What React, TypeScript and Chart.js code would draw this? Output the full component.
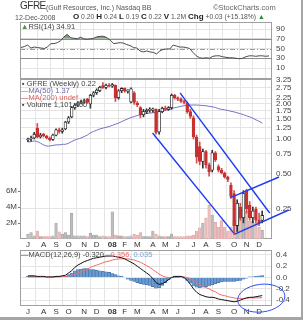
import React, { useEffect, useRef } from "react";
import { Chart, registerables } from "chart.js";
Chart.register(...registerables);

const FONT = '"Liberation Sans", Arial, sans-serif';
const W = 305;
const H = 320;

// ---- weekly data (week 0 = week of 2 Jul 2007, last = week of 8 Dec 2008) ----
const opens = [0.98,1.00,1.02,1.24,1.04,1.10,1.06,1.02,0.99,1.08,1.20,1.16,1.22,1.40,1.55,1.86,1.96,2.04,2.10,2.20,2.00,2.38,2.50,2.60,2.88,2.78,2.90,2.84,2.90,2.26,2.60,2.72,2.58,2.08,2.50,2.04,1.86,1.62,1.72,1.76,1.76,1.80,1.15,1.72,1.84,1.80,1.86,2.38,2.26,2.20,2.10,2.04,1.72,1.52,1.04,0.86,0.64,0.78,0.60,0.54,0.76,0.58,0.54,0.51,0.47,0.40,0.34,0.18,0.26,0.21,0.36,0.27,0.21,0.25,0.20,0.20];
const highs = [1.02,1.06,1.14,1.36,1.12,1.12,1.08,1.04,1.10,1.22,1.24,1.24,1.42,1.56,1.90,2.02,2.10,2.16,2.20,2.24,2.42,2.56,2.70,2.84,3.06,2.96,3.00,3.00,2.92,2.66,2.76,2.76,2.66,2.76,2.56,2.10,1.90,1.80,1.82,1.86,1.84,1.82,1.80,1.88,1.92,1.90,2.44,2.42,2.30,2.26,2.16,2.08,1.80,1.58,1.08,0.94,0.82,0.80,0.62,0.80,0.78,0.60,0.56,0.52,0.48,0.42,0.36,0.30,0.28,0.36,0.37,0.29,0.26,0.26,0.23,0.24];
const lows = [0.95,0.96,1.00,1.02,1.02,1.04,1.00,0.96,0.97,1.06,1.12,1.12,1.20,1.36,1.52,1.80,1.90,2.00,2.02,2.02,1.84,2.30,2.42,2.55,2.72,2.70,2.80,2.78,2.10,2.20,2.50,2.52,2.48,2.04,1.98,1.90,1.52,1.55,1.65,1.70,1.70,1.10,1.10,1.68,1.76,1.76,1.80,2.20,2.14,2.06,2.00,1.66,1.50,1.00,0.62,0.60,0.56,0.56,0.48,0.52,0.64,0.52,0.50,0.46,0.43,0.31,0.15,0.16,0.20,0.19,0.23,0.20,0.19,0.19,0.18,0.19];
const closes = [1.00,1.02,1.10,1.04,1.08,1.06,1.02,0.98,1.08,1.20,1.16,1.20,1.40,1.52,1.86,1.96,2.04,2.10,2.14,2.06,2.38,2.50,2.64,2.78,2.76,2.90,2.84,2.94,2.26,2.60,2.72,2.58,2.62,2.70,2.06,1.96,1.62,1.72,1.76,1.80,1.82,1.14,1.72,1.84,1.80,1.86,2.38,2.26,2.20,2.10,2.06,1.72,1.56,1.04,0.70,0.64,0.78,0.60,0.52,0.76,0.66,0.54,0.51,0.47,0.45,0.32,0.18,0.28,0.21,0.34,0.25,0.21,0.24,0.20,0.19,0.22];
const volumesM = [0.6,0.8,0.4,1.0,0.3,0.3,0.3,0.3,0.4,2.0,0.9,0.6,0.8,0.5,3.2,0.4,0.4,0.4,0.4,0.3,0.7,0.5,0.5,0.3,0.4,0.3,0.3,3.4,0.5,0.4,0.4,0.3,0.3,0.4,0.6,0.5,0.8,0.3,0.3,0.3,1.0,0.6,0.4,0.3,0.3,0.3,0.6,0.3,0.3,0.3,0.3,0.4,0.4,0.5,1.0,1.4,2.0,2.6,4.2,3.0,2.1,1.5,2.3,1.5,1.0,1.5,2.4,2.4,2.8,2.6,3.5,2.2,2.2,2.0,1.5,1.1];
const ma50 = [0.94,0.95,0.96,0.95,0.92,0.89,0.87,0.87,0.88,0.89,0.89,0.90,0.90,0.92,0.95,0.98,1.00,1.02,1.05,1.08,1.13,1.16,1.19,1.22,1.24,1.26,1.28,1.31,1.34,1.37,1.41,1.45,1.49,1.53,1.56,1.59,1.62,1.64,1.66,1.67,1.68,1.70,1.72,1.74,1.76,1.79,1.82,1.86,1.88,1.91,1.93,1.95,1.96,1.96,1.96,1.95,1.94,1.93,1.91,1.89,1.87,1.82,1.80,1.78,1.76,1.73,1.71,1.68,1.65,1.62,1.58,1.55,1.51,1.46,1.42,1.37];
const rsi14 = [52,54,57,51,53,52,51,50,53,60,60,62,66,74,79,72,71,70,73,70,69,70,71,74,75,75,72,67,60,61,62,61,58,56,52,51,45,43,45,43,42,39,45,48,49,49,57,55,53,53,52,50,42,35,31,30,31,30,34,35,35,33,32,31,31,30,29,30,33,35,35,34,35,35,34,34.91];
const macdLine = [0.03,0.03,0.03,0.02,0.02,0.02,0.01,0.01,0.01,0.02,0.02,0.03,0.04,0.08,0.12,0.18,0.22,0.25,0.28,0.30,0.32,0.34,0.35,0.36,0.37,0.38,0.38,0.38,0.37,0.36,0.35,0.33,0.30,0.27,0.24,0.20,0.16,0.12,0.08,0.04,-0.02,-0.09,-0.12,-0.11,-0.08,-0.04,0.0,0.02,0.02,0.02,0.0,-0.05,-0.12,-0.2,-0.26,-0.3,-0.32,-0.34,-0.35,-0.35,-0.36,-0.38,-0.39,-0.40,-0.41,-0.42,-0.43,-0.42,-0.40,-0.38,-0.36,-0.35,-0.35,-0.34,-0.33,-0.32];
const signalLine = [0.01,0.01,0.01,0.01,0.01,0.01,0.01,0.01,0.01,0.01,0.01,0.02,0.02,0.03,0.04,0.06,0.08,0.10,0.12,0.14,0.18,0.2,0.22,0.24,0.26,0.28,0.29,0.31,0.32,0.33,0.33,0.33,0.33,0.32,0.31,0.29,0.27,0.24,0.21,0.18,0.14,0.10,0.06,0.03,0.01,0.0,0.0,0.0,0.0,0.01,0.01,0.0,-0.02,-0.05,-0.09,-0.12,-0.15,-0.18,-0.2,-0.23,-0.25,-0.29,-0.31,-0.32,-0.34,-0.35,-0.36,-0.37,-0.37,-0.37,-0.37,-0.36,-0.36,-0.36,-0.36,-0.356];
const macdHist = [0.02,0.02,0.02,0.01,0.01,0.01,0.0,0.0,0.0,0.01,0.01,0.01,0.02,0.05,0.08,0.12,0.14,0.15,0.16,0.16,0.14,0.14,0.13,0.12,0.11,0.10,0.09,0.07,0.05,0.03,0.02,0.0,-0.03,-0.05,-0.07,-0.09,-0.11,-0.12,-0.13,-0.14,-0.16,-0.19,-0.18,-0.14,-0.09,-0.04,0.0,0.02,0.02,0.01,-0.01,-0.05,-0.10,-0.15,-0.17,-0.18,-0.17,-0.16,-0.15,-0.13,-0.11,-0.09,-0.08,-0.07,-0.07,-0.07,-0.07,-0.06,-0.05,-0.03,-0.01,0.01,0.01,0.02,0.03,0.035];

// hand-drawn annotation lines: [startWeek, startPrice, endWeek, endPrice]
const trendLines = [
  [48.7, 2.49, 77.4, 0.231],
  [39.9, 1.126, 65.9, 0.155],
  [64.7, 0.311, 80.4, 0.471],
  [66.2, 0.152, 83.5, 0.245],
];
// ellipse annotation on MACD: [centerWeek, centerValue, radiusWeeks, radiusValue, rotation]
const macdEllipse = [74.7, -0.365, 7.6, 0.245, -0.12];

const priceTicks = [0.25, 0.5, 0.75, 1, 1.25, 1.5, 1.75, 2, 2.25, 2.75, 3.25];
const volumeTicks = [2e6, 4e6, 6e6];
const rsiTicks = [10, 30, 50, 70, 90];
const macdTicks = [-0.4, -0.2, 0, 0.2, 0.4];
const monthNames = ["08", "F", "M", "A", "M", "J", "J", "A", "S", "O", "N", "D"];

const FIRST_WEEK = Date.UTC(2007, 6, 2);
const DAY = 86400000;
const monthTicks: { value: number; label: string }[] = [];
opens.forEach((_, i) => {
  const d = new Date(FIRST_WEEK + i * 7 * DAY);
  const p = new Date(FIRST_WEEK + (i - 1) * 7 * DAY);
  if (i === 0 || d.getUTCMonth() !== p.getUTCMonth()) {
    monthTicks.push({ value: i, label: monthNames[d.getUTCMonth()] });
  }
});
const labelFor = (v: number) => {
  const t = monthTicks.find((m) => m.value === v);
  return t ? t.label : "";
};

const X_MIN = -0.3;
const X_MAX = 75.9;
const GRID = "#e4e4e4";

function xAxis(showLabels: boolean, pad: number) {
  return {
    type: "linear",
    min: X_MIN,
    max: X_MAX,
    afterBuildTicks: (s: any) => {
      s.ticks = monthTicks.map((t) => ({ value: t.value }));
    },
    afterFit: (s: any) => {
      s.height = showLabels ? 11 : 0;
      s.paddingLeft = 0;
      s.paddingRight = 0;
    },
    grid: { color: GRID, drawTicks: false, lineWidth: 1 },
    border: { display: false },
    ticks: {
      display: showLabels,
      autoSkip: false,
      maxRotation: 0,
      padding: pad,
      color: "#333",
      font: (c: any) => ({
        family: FONT,
        size: 8,
        weight: c.tick && labelFor(c.tick.value) === "08" ? "bold" : "normal",
      }),
      callback: (v: any) => labelFor(v),
    },
  };
}

function rightAxis(extra: any) {
  return {
    position: "right",
    afterFit: (s: any) => {
      s.width = 33;
      s.paddingTop = 0;
      s.paddingBottom = 0;
    },
    grid: { color: GRID, drawTicks: false },
    border: { display: false },
    ticks: { padding: 4, color: "#444", font: { family: FONT, size: 8 }, autoSkip: false },
    ...extra,
  };
}

const framePlugin = {
  id: "frame",
  beforeDatasetsDraw(chart: any) {
    const { ctx, chartArea: a } = chart;
    ctx.save();
    ctx.strokeStyle = "#a0a0a0";
    ctx.lineWidth = 1;
    ctx.strokeRect(Math.round(a.left) + 0.5, Math.round(a.top) + 0.5, Math.round(a.width) - 1, Math.round(a.height) - 1);
    ctx.restore();
  },
};

const rsiLinesPlugin = {
  id: "rsiLines",
  beforeDatasetsDraw(chart: any) {
    const { ctx, chartArea: a, scales } = chart;
    ctx.save();
    ctx.lineWidth = 1;
    [70, 30].forEach((v) => {
      const y = Math.round(scales.y.getPixelForValue(v)) + 0.5;
      ctx.strokeStyle = "#8c8c8c";
      ctx.beginPath();
      ctx.moveTo(a.left, y);
      ctx.lineTo(a.right, y);
      ctx.stroke();
    });
    const y50 = Math.round(scales.y.getPixelForValue(50)) + 0.5;
    ctx.strokeStyle = "#9a9a9a";
    ctx.setLineDash([5, 2, 1, 2]);
    ctx.beginPath();
    ctx.moveTo(a.left, y50);
    ctx.lineTo(a.right, y50);
    ctx.stroke();
    ctx.restore();
  },
};

const trendPlugin = {
  id: "trend",
  afterDatasetsDraw(chart: any) {
    const { ctx, scales } = chart;
    ctx.save();
    ctx.strokeStyle = "#1d3cf2";
    ctx.lineWidth = 1.4;
    trendLines.forEach(([k0, p0, k1, p1]) => {
      ctx.beginPath();
      ctx.moveTo(scales.x.getPixelForValue(k0), scales.y.getPixelForValue(p0));
      ctx.lineTo(scales.x.getPixelForValue(k1), scales.y.getPixelForValue(p1));
      ctx.stroke();
    });
    ctx.restore();
  },
};

const ellipsePlugin = {
  id: "ellipse",
  afterDatasetsDraw(chart: any) {
    const { ctx, scales } = chart;
    const [ck, cv, rk, rv, rot] = macdEllipse;
    const cx = scales.x.getPixelForValue(ck);
    const cy = scales.y.getPixelForValue(cv);
    const rx = Math.abs(scales.x.getPixelForValue(ck + rk) - cx);
    const ry = Math.abs(scales.y.getPixelForValue(cv + rv) - cy);
    ctx.save();
    ctx.strokeStyle = "#2f4ff0";
    ctx.lineWidth = 1;
    ctx.beginPath();
    ctx.ellipse(cx, cy, rx, ry, rot, 0, Math.PI * 2);
    ctx.stroke();
    ctx.restore();
  },
};

const idx = opens.map((_, i) => i);
const up = idx.map((i) => closes[i] >= opens[i]);
const volUp = idx.map((i) => (i === 0 ? true : closes[i] >= closes[i - 1]));
const RED = "#c93030";

function rsiConfig(): any {
  return {
    type: "line",
    data: {
      datasets: [
        {
          data: idx.map((i) => ({ x: i, y: rsi14[i] })),
          borderColor: "#4a4a4a",
          borderWidth: 1,
          pointRadius: 0,
          fill: { target: { value: 70 }, above: "#7f9f7f", below: "rgba(0,0,0,0)" },
        },
      ],
    },
    options: {
      animation: false,
      responsive: false,
      events: [],
      layout: { padding: { top: 21.5, bottom: 242, left: 20, right: 0 } },
      plugins: { legend: { display: false }, tooltip: { enabled: false } },
      scales: {
        x: xAxis(false, 0),
        y: rightAxis({
          min: -10.5,
          max: 105.4,
          afterBuildTicks: (s: any) => {
            s.ticks = rsiTicks.map((v) => ({ value: v }));
          },
          ticks: { padding: 4, color: "#444", font: { family: FONT, size: 8 }, callback: (v: any) => String(v) },
        }),
      },
    },
    plugins: [framePlugin, rsiLinesPlugin],
  };
}

function mainConfig(): any {
  return {
    type: "bar",
    data: {
      datasets: [
        {
          type: "bar",
          yAxisID: "y",
          order: 2,
          grouped: false,
          barThickness: 2.8,
          borderSkipped: false,
          data: idx.map((i) => ({ x: i, y: [Math.min(opens[i], closes[i]), Math.max(opens[i], closes[i])] })),
          backgroundColor: idx.map((i) => (up[i] ? "#ffffff" : RED)),
          borderColor: idx.map((i) => (up[i] ? "#222222" : RED)),
          borderWidth: 0.8,
          minBarLength: 1,
        },
        {
          type: "bar",
          yAxisID: "y",
          order: 4,
          grouped: false,
          barThickness: 1,
          data: idx.map((i) => ({ x: i, y: [lows[i], highs[i]] })),
          backgroundColor: idx.map((i) => (up[i] ? "#333333" : "#d05050")),
        },
        {
          type: "line",
          yAxisID: "y",
          order: 6,
          data: idx.map((i) => ({ x: i, y: ma50[i] })),
          borderColor: "#7272c6",
          borderWidth: 1,
          pointRadius: 0,
          tension: 0.3,
        },
        {
          type: "bar",
          yAxisID: "vol",
          order: 8,
          grouped: false,
          barThickness: 2.6,
          data: idx.map((i) => ({ x: i, y: volumesM[i] * 1e6 })),
          backgroundColor: idx.map((i) => (volUp[i] ? "#bdbdbd" : "#ebbdbd")),
          borderColor: idx.map((i) => (volUp[i] ? "#a2a2a2" : "#d9a3a3")),
          borderWidth: 0.6,
        },
      ],
    },
    options: {
      animation: false,
      responsive: false,
      events: [],
      layout: { padding: { top: 79, bottom: 70, left: 0, right: 0 } },
      plugins: { legend: { display: false }, tooltip: { enabled: false } },
      scales: {
        x: xAxis(true, 1),
        y: rightAxis({
          type: "logarithmic",
          min: 0.138,
          max: 3.28,
          afterBuildTicks: (s: any) => {
            s.ticks = priceTicks.map((v) => ({ value: v }));
          },
          ticks: { padding: 4, color: "#444", font: { family: FONT, size: 8 }, callback: (v: any) => Number(v).toFixed(2) },
        }),
        vol: {
          type: "linear",
          position: "left",
          min: 0,
          max: 20e6,
          afterBuildTicks: (s: any) => {
            s.ticks = volumeTicks.map((v) => ({ value: v }));
          },
          afterFit: (s: any) => {
            s.width = 20;
            s.paddingTop = 0;
            s.paddingBottom = 0;
          },
          grid: { drawOnChartArea: false, drawTicks: true, tickLength: 2, tickColor: "#777" },
          border: { display: false },
          ticks: { padding: 1, color: "#444", font: { family: FONT, size: 8 }, callback: (v: any) => v / 1e6 + "M" },
        },
      },
    },
    plugins: [framePlugin, trendPlugin],
  };
}

function macdConfig(): any {
  return {
    type: "bar",
    data: {
      datasets: [
        {
          type: "line",
          order: 1,
          data: idx.map((i) => ({ x: i, y: macdLine[i] })),
          borderColor: "#111111",
          borderWidth: 1,
          pointRadius: 0,
        },
        {
          type: "line",
          order: 2,
          data: idx.map((i) => ({ x: i, y: signalLine[i] })),
          borderColor: "#f26a6a",
          borderWidth: 1,
          pointRadius: 0,
        },
        {
          type: "bar",
          order: 3,
          barThickness: 3,
          data: idx.map((i) => ({ x: i, y: macdHist[i] })),
          backgroundColor: "#6b9bd0",
          borderColor: "#3c6da6",
          borderWidth: 0.6,
        },
      ],
    },
    options: {
      animation: false,
      responsive: false,
      events: [],
      layout: { padding: { top: 250, bottom: 3, left: 20, right: 0 } },
      plugins: { legend: { display: false }, tooltip: { enabled: false } },
      scales: {
        x: xAxis(true, 1),
        y: rightAxis({
          min: -0.504,
          max: 0.487,
          afterBuildTicks: (s: any) => {
            s.ticks = macdTicks.map((v) => ({ value: v }));
          },
          ticks: { padding: 4, color: "#444", font: { family: FONT, size: 8 }, callback: (v: any) => Number(v).toFixed(1) },
        }),
      },
    },
    plugins: [framePlugin, ellipsePlugin],
  };
}

const abs = (left: number, top: number, extra: any = {}) => ({
  position: "absolute" as const,
  left,
  top,
  whiteSpace: "nowrap" as const,
  lineHeight: 1,
  fontFamily: FONT,
  ...extra,
});

export default function App() {
  const rsiRef = useRef<HTMLCanvasElement>(null);
  const mainRef = useRef<HTMLCanvasElement>(null);
  const macdRef = useRef<HTMLCanvasElement>(null);

  useEffect(() => {
    const charts = [
      new Chart(rsiRef.current as HTMLCanvasElement, rsiConfig()),
      new Chart(mainRef.current as HTMLCanvasElement, mainConfig()),
      new Chart(macdRef.current as HTMLCanvasElement, macdConfig()),
    ];
    return () => charts.forEach((c) => c.destroy());
  }, []);

  const cv = { position: "absolute" as const, left: 0, top: 0, width: W, height: H };
  const bold = { fontSize: 8, fontWeight: "bold", color: "#222" };

  return (
    <div style={{ position: "fixed", left: 0, top: 0, width: W, height: H, background: "#fff", overflow: "hidden" }}>
      <div style={{ position: "absolute", left: 0, top: 0, width: 301, height: 317, borderRight: "2px solid #a5a5a5", borderBottom: "3px solid #a5a5a5" }} />
      <canvas ref={rsiRef} width={W} height={H} style={cv} />
      <canvas ref={mainRef} width={W} height={H} style={cv} />
      <canvas ref={macdRef} width={W} height={H} style={cv} />

      {/* header */}
      <div style={abs(20, 1, { fontSize: 10, letterSpacing: -0.5, color: "#333" })}>GFRE</div>
      <div style={abs(46, 3.5, { fontSize: 7, color: "#555" })}>(Gulf Resources, Inc.) Nasdaq BB</div>
      <div style={abs(213, 3.5, { fontSize: 7.5, color: "#666" })}>©StockCharts.com</div>
      <div style={abs(15, 13.5, { fontSize: 7, color: "#555" })}>12-Dec-2008</div>
      <div style={abs(73, 13, { fontSize: 6.8, color: "#555" })}>
        <span style={bold}>O</span> 0.20 <span style={bold}>H</span> 0.24 <span style={bold}>L</span> 0.19{" "}
        <span style={bold}>C</span> 0.22 <span style={bold}>V</span> 1.2M <span style={bold}>Chg</span> +0.03 (+15.18%){" "}
        <span style={{ color: "#2a8a2a" }}>▲</span>
      </div>

      {/* RSI label */}
      <div style={abs(21, 22.5, { fontSize: 7.5, color: "#444" })}>
        <span style={{ color: "#5a8a5a" }}>▲</span>RSI(14) 34.91
      </div>

      {/* main legend */}
      <div style={abs(22, 80, { fontSize: 7.5, color: "#444" })}>
        <span style={{ fontWeight: "bold" }}>▪</span> GFRE (Weekly) 0.22
      </div>
      <div style={abs(21, 87, { fontSize: 7.5, color: "#6a6aa8" })}>
        <span style={{ color: "#6a6ad0" }}>—</span>MA(50) 1.37
      </div>
      <div style={abs(21, 94, { fontSize: 7.5, color: "#e06060" })}>
        <span>—</span>MA(200) undef
      </div>
      <div style={abs(22, 101, { fontSize: 7.5, color: "#444" })}>
        <span style={{ fontWeight: "bold" }}>▪</span> Volume 1,101,400
      </div>

      {/* MACD legend */}
      <div style={abs(21, 251, { fontSize: 7.5, color: "#444" })}>
        <span>—</span>MACD(12,26,9) -0.320<span style={{ color: "#f06a6a" }}>, -0.356</span>
        <span style={{ color: "#7aa4d6" }}>, 0.035</span>
      </div>
    </div>
  );
}
